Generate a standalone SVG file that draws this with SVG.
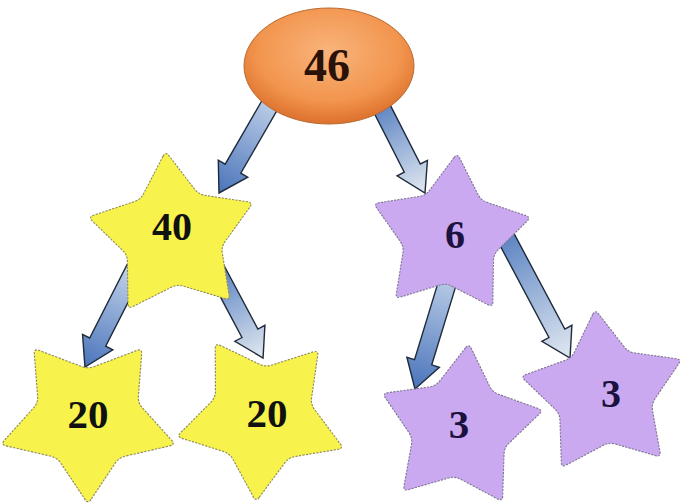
<svg xmlns="http://www.w3.org/2000/svg" width="683" height="504" viewBox="0 0 683 504">
<defs>
<style>
.yellow{fill:#f7f34c;stroke:#8f8a5e;stroke-width:1.3;stroke-dasharray:2.5 1.5;vector-effect:non-scaling-stroke}
.purple{fill:#caa9f0;stroke:#7d7490;stroke-width:1.3;stroke-dasharray:2.5 1.5;vector-effect:non-scaling-stroke}
.arrow{stroke:#1f2a3a;stroke-width:1.4;stroke-linejoin:miter}
.num{font-family:"Liberation Serif","Times New Roman",serif;font-weight:bold;text-anchor:middle}
</style>
<path id="star" d="M -3.35,-94.6 Q 0,-100 3.35,-94.6 L 29.48,-52.57 Q 33.5,-46.1 40.89,-44.28 L 88.94,-32.42 Q 95.1,-30.9 91.01,-26.05 L 59.11,11.78 Q 54.2,17.6 54.75,25.2 L 58.34,74.57 Q 58.8,80.9 52.92,78.51 L 7.06,59.87 Q 0,57 -7.06,59.87 L -52.92,78.51 Q -58.8,80.9 -58.34,74.57 L -54.75,25.2 Q -54.2,17.6 -59.11,11.78 L -91.01,-26.05 Q -95.1,-30.9 -88.94,-32.42 L -40.89,-44.28 Q -33.5,-46.1 -29.48,-52.57 Z"/>
<linearGradient id="darkTip" x1="0" y1="0" x2="1" y2="0">
<stop offset="0" stop-color="#c2d3ea"/>
<stop offset="1" stop-color="#4a74ba"/>
</linearGradient>
<linearGradient id="lightTip" x1="0" y1="0" x2="1" y2="0">
<stop offset="0" stop-color="#5a82c2"/>
<stop offset="1" stop-color="#e2e9f1"/>
</linearGradient>
<radialGradient id="orange" cx="50%" cy="38%" r="60%">
<stop offset="0" stop-color="#f9b47c"/>
<stop offset="0.7" stop-color="#f2954e"/>
<stop offset="1" stop-color="#de7430"/>
</radialGradient>
</defs>
<rect width="683" height="504" fill="#ffffff"/>
<g id="connectors">
<polygon class="arrow" fill="url(#darkTip)" transform="translate(274,97.7) rotate(120)" points="0,-9 82,-9 82,-17 110,0 82,17 82,9 0,9"/>
<polygon class="arrow" fill="url(#lightTip)" transform="translate(379.6,103.9) rotate(63)" points="0,-9 72,-9 72,-17 100,0 72,17 72,9 0,9"/>
<polygon class="arrow" fill="url(#darkTip)" transform="translate(134.9,269) rotate(117)" points="0,-9 82,-9 82,-17 110,0 82,17 82,9 0,9"/>
<polygon class="arrow" fill="url(#lightTip)" transform="translate(216.1,269.7) rotate(62)" points="0,-9 72,-9 72,-17 100,0 72,17 72,9 0,9"/>
<polygon class="arrow" fill="url(#darkTip)" transform="translate(451.5,269.5) rotate(107)" points="0,-9 97,-9 97,-17 125,0 97,17 97,9 0,9"/>
<polygon class="arrow" fill="url(#lightTip)" transform="translate(504.3,234.4) rotate(62)" points="0,-9 112,-9 112,-17 140,0 112,17 112,9 0,9"/>
</g>
<g id="node-20-left">
<use href="#star" class="yellow" transform="translate(88,418) rotate(180) scale(0.92,0.86)"/>
<text class="num" x="88" y="428" font-size="41" fill="#111111">20</text>
</g>
<g id="node-20-right">
<use href="#star" class="yellow" transform="translate(262,416) rotate(184) scale(0.88,0.86)"/>
<text class="num" x="267" y="427" font-size="41" fill="#111111">20</text>
</g>
<g id="node-3-left">
<use href="#star" class="purple" transform="translate(460,428) rotate(6) scale(0.85)"/>
<text class="num" x="459" y="438" font-size="41" fill="#1c1240">3</text>
</g>
<g id="node-3-right">
<use href="#star" class="purple" transform="translate(604,394) rotate(-6) scale(0.85)"/>
<text class="num" x="611" y="407" font-size="40" fill="#1c1240">3</text>
</g>
<g id="node-40">
<use href="#star" class="yellow" transform="translate(173,236) rotate(-5) scale(0.87,0.85)"/>
<text class="num" x="172" y="240" font-size="40" fill="#111111">40</text>
</g>
<g id="node-6">
<use href="#star" class="purple" transform="translate(450,236) rotate(5) scale(0.83)"/>
<text class="num" x="455" y="248" font-size="40" fill="#1c1240">6</text>
</g>
<g id="node-46">
<ellipse cx="329" cy="66" rx="85" ry="58" fill="url(#orange)" stroke="#b86a30" stroke-width="1"/>
<text class="num" x="327" y="81" font-size="46" fill="#2a1208">46</text>
</g>
</svg>
